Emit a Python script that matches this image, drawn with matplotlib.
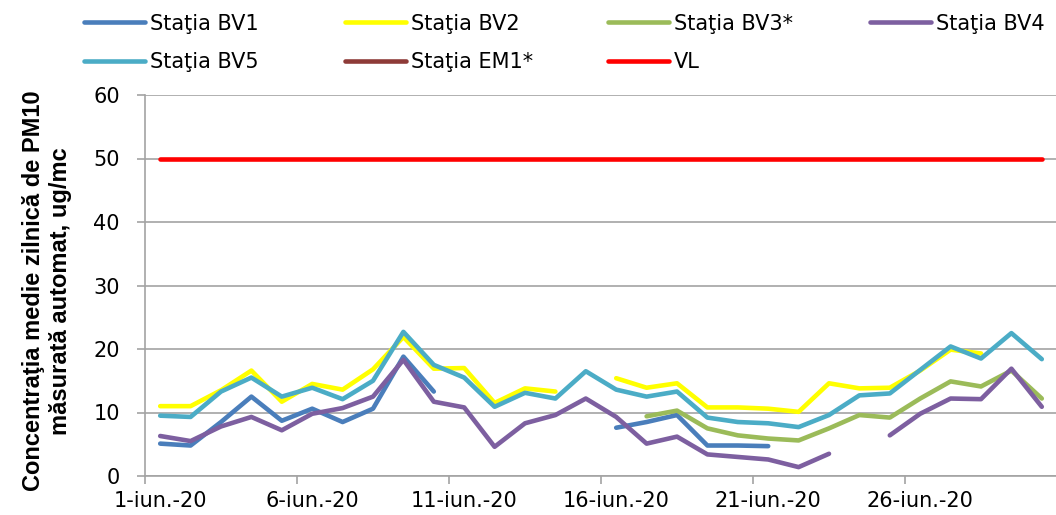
import matplotlib
matplotlib.use("Agg")
import matplotlib.pyplot as plt
import numpy as np

nan = np.nan

days = list(range(1, 31))
tick_days = [1, 6, 11, 16, 21, 26]
tick_labels = [f"{d}-iun.-20" for d in tick_days]

bv1 = [5.1, 4.8, 8.5, 12.5, 8.7, 10.6, 8.5, 10.6, 18.8, 13.3,
       nan, nan, nan, nan, nan, 7.6, 8.5, 9.6, 4.8, 4.8,
       4.7, nan, nan, nan, nan, nan, nan, nan, nan, nan]
bv2 = [11.0, 11.0, 13.5, 16.6, 11.7, 14.5, 13.6, 16.8, 21.9, 16.9,
       17.0, 11.5, 13.8, 13.3, nan, 15.4, 13.9, 14.6, 10.8, 10.8,
       10.6, 10.1, 14.6, 13.8, 13.9, 16.6, 19.9, 19.3, nan, nan]
bv3 = [nan, nan, nan, nan, nan, nan, nan, nan, nan, nan,
       nan, nan, nan, nan, nan, nan, 9.4, 10.3, 7.5, 6.4,
       5.9, 5.6, 7.5, 9.6, 9.2, 12.2, 14.9, 14.1, 16.6, 12.2]
bv4 = [6.3, 5.5, 7.8, 9.3, 7.2, 9.8, 10.7, 12.5, 18.3, 11.7,
       10.8, 4.6, 8.3, 9.6, 12.2, 9.3, 5.1, 6.2, 3.4, 3.0,
       2.6, 1.4, 3.5, nan, 6.4, 9.8, 12.2, 12.1, 16.9, 10.9]
bv5 = [9.5, 9.3, 13.3, 15.5, 12.5, 13.9, 12.1, 15.0, 22.7, 17.5,
       15.5, 10.9, 13.1, 12.2, 16.5, 13.6, 12.5, 13.3, 9.2, 8.5,
       8.3, 7.7, 9.6, 12.7, 13.0, 16.7, 20.4, 18.5, 22.5, 18.4]
em1 = [nan] * 30
vl = [50] * 30

series = [
    ("Staţia BV1", bv1, "#4A7EBB"),
    ("Staţia BV2", bv2, "#FFFF00"),
    ("Staţia BV3*", bv3, "#9BBB59"),
    ("Staţia BV4", bv4, "#7D5FA0"),
    ("Staţia BV5", bv5, "#4BACC6"),
    ("Staţia EM1*", em1, "#8E3B38"),
    ("VL", vl, "#FF0000"),
]

plt.rcParams["font.family"] = ["DejaVu Sans"]
grey = "#A3A3A3"

fig = plt.figure(figsize=(10.56, 5.15), dpi=100)
ax = fig.add_axes([145 / 1056, 1 - 476 / 515, 912 / 1056, 381 / 515])

handles = {}
for name, vals, col in series:
    ln, = ax.plot(days, vals, color=col, lw=3.3, solid_capstyle="round",
                  solid_joinstyle="round", label=name)
    handles[name] = ln

ax.set_xlim(0.5, 30.5)
ax.set_ylim(0, 60)
ax.set_yticks(range(0, 61, 10))
ax.yaxis.grid(True, color=grey, lw=1.2)
ax.set_axisbelow(True)

ax.set_xticks([0.5, 5.5, 10.5, 15.5, 20.5, 25.5])
ax.set_xticklabels([])
ax.set_xticks(tick_days, minor=True)
ax.set_xticklabels(tick_labels, minor=True)
ax.tick_params(axis="x", which="major", length=6, color=grey, width=1.2)
ax.tick_params(axis="x", which="minor", length=0, pad=11, labelsize=15)
ax.tick_params(axis="y", length=6, color=grey, width=1.2, pad=12, labelsize=15)

for s in ["top", "right"]:
    ax.spines[s].set_visible(False)
for s in ["left", "bottom"]:
    ax.spines[s].set_color(grey)
    ax.spines[s].set_linewidth(1.2)

fig.text(47 / 1056, 1 - 291 / 515,
         "Concentraţia medie zilnică de PM10\nmăsurată automat, ug/mc",
         rotation=90, ha="center", va="center", multialignment="center",
         fontsize=17, fontweight="bold", family="Liberation Sans",
         linespacing=1.25)

# legend: four evenly spaced columns like the original
columns = [
    (79, ["Staţia BV1", "Staţia BV5"]),
    (340, ["Staţia BV2", "Staţia EM1*"]),
    (603, ["Staţia BV3*", "VL"]),
    (865, ["Staţia BV4"]),
]
for x0, names in columns:
    fig.legend([handles[n] for n in names], names, loc="upper left",
               bbox_to_anchor=(x0 / 1056 - 0.008, 1.0), frameon=False,
               fontsize=15, handlelength=2.9, handletextpad=0.25,
               labelspacing=0.9, borderaxespad=0.25)

fig.savefig("out.png", dpi=100)
